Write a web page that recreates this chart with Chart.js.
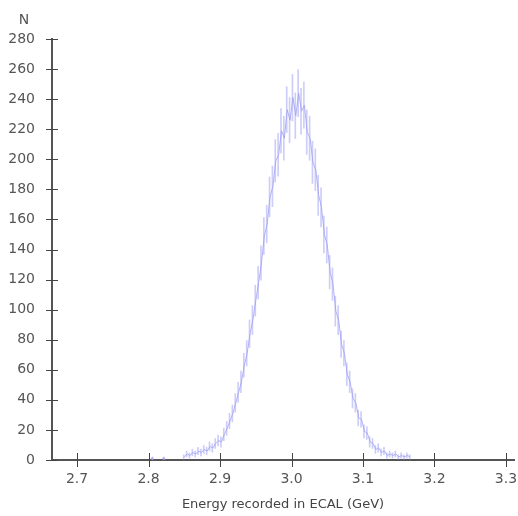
<!DOCTYPE html>
<html>
<head>
<meta charset="utf-8">
<script src="https://cdn.jsdelivr.net/npm/chart.js@4/dist/chart.umd.min.js"></script>
<style>
  html, body { margin: 0; padding: 0; background: #ffffff; }
  #wrap { width: 518px; height: 516px; position: relative; }
</style>
</head>
<body>
<div id="wrap"><canvas id="c" width="518" height="516"></canvas></div>
<script>
// Bin centres (GeV) of the histogram
const energy = [2.850,2.854,2.858,2.862,2.866,2.870,2.874,2.878,2.882,2.886,
  2.890,2.894,2.898,2.902,2.906,2.910,2.914,2.918,2.922,2.926,
  2.930,2.934,2.938,2.942,2.946,2.950,2.954,2.958,2.962,2.966,
  2.970,2.974,2.978,2.982,2.986,2.990,2.994,2.998,3.002,3.006,
  3.010,3.014,3.018,3.022,3.026,3.030,3.034,3.038,3.042,3.046,
  3.050,3.054,3.058,3.062,3.066,3.070,3.074,3.078,3.082,3.086,
  3.090,3.094,3.098,3.102,3.106,3.110,3.114,3.118,3.122,3.126,
  3.130,3.134,3.138,3.142,3.146,3.150,3.154,3.158,3.162,3.166];
// Counts per bin
const counts = [2,4,3,5,4,6,5,7,6,9,
  8,11,13,12,17,21,26,31,38,45,
  52,63,71,84,93,106,118,131,149,157,
  175,182,199,203,219,214,233,226,241,229,
  244,232,236,218,214,198,193,176,168,150,
  143,125,117,99,93,77,71,57,52,41,
  38,28,27,19,18,12,11,7,8,5,
  6,3,4,3,4,2,3,2,3,2];
// Isolated low entries far in the left tail
const isolatedEnergy = [2.805, 2.821];
const isolatedCounts = [1, 1];

const xTickValues = [2.7, 2.8, 2.9, 3.0, 3.1, 3.2, 3.3];
const yTickValues = [0,20,40,60,80,100,120,140,160,180,200,220,240,260,280];
const xTitle = 'Energy recorded in ECAL (GeV)';
const yTitle = 'N';

const lineColor = 'rgba(160,160,242,0.8)';
const errColor = 'rgba(172,172,245,0.6)';

const histPoints = energy.map((e, i) => ({ x: e, y: counts[i] }));
const errBars = energy.map((e, i) => ({ x: e, y: [counts[i] - Math.sqrt(counts[i]), counts[i] + Math.sqrt(counts[i])] }));
const isoPoints = isolatedEnergy.map((e, i) => ({ x: e, y: isolatedCounts[i] }));
const isoErr = isolatedEnergy.map((e, i) => ({ x: e, y: [isolatedCounts[i] - Math.sqrt(isolatedCounts[i]), isolatedCounts[i] + Math.sqrt(isolatedCounts[i])] }));

const crossTicks = {
  id: 'crossTicks',
  afterDraw(chart) {
    const ctx = chart.ctx;
    const xs = chart.scales.x, ys = chart.scales.y;
    ctx.save();
    ctx.strokeStyle = '#444';
    ctx.lineWidth = 1;
    xs.ticks.forEach(t => {
      const px = Math.round(xs.getPixelForValue(t.value)) + 0.5;
      ctx.beginPath();
      ctx.moveTo(px, xs.top - 7);
      ctx.lineTo(px, xs.top + 7);
      ctx.stroke();
    });
    ys.ticks.forEach(t => {
      const py = Math.round(ys.getPixelForValue(t.value)) + 0.5;
      ctx.beginPath();
      ctx.moveTo(ys.right - 6, py);
      ctx.lineTo(ys.right + 6, py);
      ctx.stroke();
    });
    ctx.fillStyle = '#555';
    ctx.font = '14px "DejaVu Sans"';
    ctx.textAlign = 'center';
    ctx.textBaseline = 'alphabetic';
    ctx.fillText(yTitle, 24, 24);
    ctx.restore();
  }
};

new Chart(document.getElementById('c'), {
  type: 'bar',
  data: {
    datasets: [
      { type: 'line', data: histPoints, borderColor: lineColor, borderWidth: 1, pointRadius: 0, tension: 0, order: 1 },
      { type: 'bar', data: errBars, backgroundColor: errColor, borderWidth: 0, barThickness: 1, order: 2 },
      { type: 'bar', data: isoErr, backgroundColor: errColor, borderWidth: 0, barThickness: 1, order: 2 },
      { type: 'line', data: isoPoints, showLine: false, pointRadius: 1.2, pointBackgroundColor: lineColor, pointBorderWidth: 0, order: 1 }
    ]
  },
  options: {
    responsive: false,
    animation: false,
    layout: { padding: { top: 39, right: 0, left: 0, bottom: 0 } },
    plugins: { legend: { display: false }, tooltip: { enabled: false } },
    scales: {
      x: {
        type: 'linear',
        min: 2.665,
        max: 3.3112,
        offset: false,
        afterBuildTicks: s => { s.ticks = xTickValues.map(v => ({ value: v })); },
        afterFit: s => { s.height = 56; s.paddingRight = 0; s.paddingLeft = 0; },
        grid: { display: false },
        border: { display: true, color: '#555', width: 2 },
        ticks: { color: '#555', font: { family: 'DejaVu Sans', size: 14 }, padding: 3, maxRotation: 0,
                 callback: v => Number(v).toFixed(1) },
        title: { display: true, text: xTitle, color: '#444', font: { family: 'DejaVu Sans', size: 13 }, padding: { top: 0, bottom: 4 } }
      },
      y: {
        min: 0,
        max: 280,
        afterBuildTicks: s => { s.ticks = yTickValues.map(v => ({ value: v })); },
        afterFit: s => { s.width = 52; },
        grid: { display: false },
        border: { display: true, color: '#555', width: 2 },
        ticks: { color: '#555', font: { family: 'DejaVu Sans', size: 14 }, padding: 9 }
      }
    }
  },
  plugins: [crossTicks]
});
</script>
</body>
</html>
